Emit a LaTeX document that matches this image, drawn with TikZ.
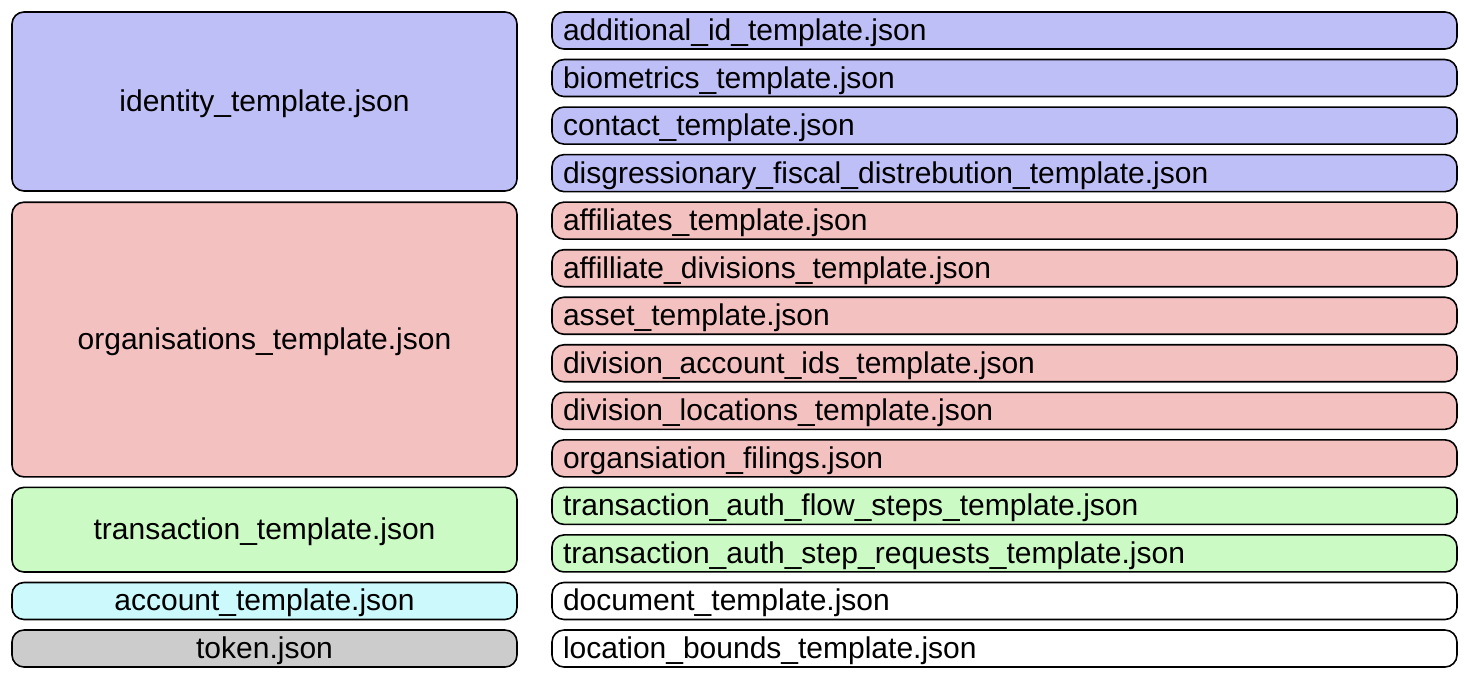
\documentclass[tikz,border=0pt]{standalone}
\usepackage{fontspec}
\setmainfont{Liberation Sans}
\definecolor{cblue}{RGB}{191,191,247}
\definecolor{cpink}{RGB}{244,193,193}
\definecolor{cgreen}{RGB}{204,250,196}
\definecolor{ccyan}{RGB}{204,250,252}
\definecolor{cgrey}{RGB}{204,204,204}
\tikzset{
  base/.style={draw=black, line width=1.6pt, rounded corners=12pt, font=\fontsize{30}{34}\selectfont, inner ysep=0pt, text height=26pt, text depth=6pt},
  leftbox/.style={base, minimum width=505pt, align=center},
  rightbox/.style={base, minimum width=905pt, minimum height=37pt, text width=883pt, inner xsep=11pt, align=left},
}
\begin{document}
\begin{tikzpicture}[x=1pt,y=-1pt]
\useasboundingbox (0,0) rectangle (1466,679);
\def\p{47.54}
% left boxes
\node[leftbox, fill=cblue, minimum height=179pt] (identity) at (264.5,{(12+191)/2}) {identity\_template.json};
\node[leftbox, fill=cpink, minimum height=274.7pt] (org) at (264.5,{(202.2+476.9)/2}) {organisations\_template.json};
\node[leftbox, fill=cgreen, minimum height=84.6pt] (trans) at (264.5,{(487.4+572)/2}) {transaction\_template.json};
\node[leftbox, fill=ccyan, minimum height=37pt] (account) at (264.5,{30.5+12*\p}) {account\_template.json};
\node[leftbox, fill=cgrey, minimum height=37pt] (token) at (264.5,{30.5+13*\p}) {token.json};
% right boxes
\foreach \i/\c/\n/\t in {
 0/cblue/r0/additional\_id\_template.json,
 1/cblue/r1/biometrics\_template.json,
 2/cblue/r2/contact\_template.json,
 3/cblue/r3/disgressionary\_fiscal\_distrebution\_template.json,
 4/cpink/r4/affiliates\_template.json,
 5/cpink/r5/affilliate\_divisions\_template.json,
 6/cpink/r6/asset\_template.json,
 7/cpink/r7/division\_account\_ids\_template.json,
 8/cpink/r8/division\_locations\_template.json,
 9/cpink/r9/organsiation\_filings.json,
 10/cgreen/r10/transaction\_auth\_flow\_steps\_template.json,
 11/cgreen/r11/transaction\_auth\_step\_requests\_template.json,
 12/white/r12/document\_template.json,
 13/white/r13/location\_bounds\_template.json}
{
  \node[rightbox, fill=\c] (\n) at (1004.5,{30.5+\i*\p}) {\t};
}
\end{tikzpicture}
\end{document}
